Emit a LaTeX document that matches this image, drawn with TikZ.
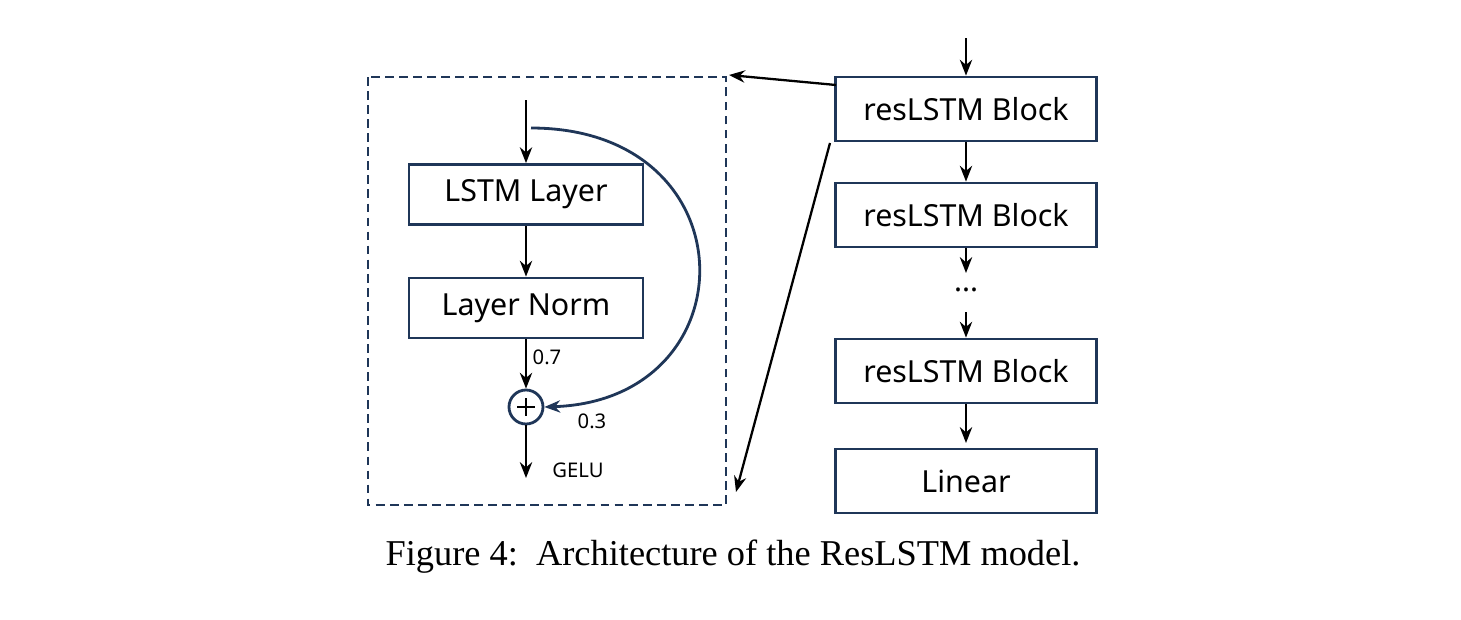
\documentclass[tikz,border=0pt]{standalone}
\usepackage{fontspec}
\setmainfont{Liberation Serif}
\newfontfamily\boxfont{Noto Sans}
\usetikzlibrary{arrows.meta, positioning}
\definecolor{navy}{HTML}{1F3658}
\tikzset{
  blk/.style={draw=navy, line width=1.6pt, minimum width=4.68cm, minimum height=1.2cm, font=\boxfont\fontsize{17.3}{20}\selectfont},
  rblk/.style={blk, minimum width=5.22cm, minimum height=1.28cm},
  arr/.style={-{Stealth[length=9pt,width=7pt]}, line width=1.3pt},
  lbl/.style={font=\boxfont\fontsize{11.5}{13}\selectfont}
}
\begin{document}
\begin{tikzpicture}[x=0.02cm, y=-0.02cm]
\useasboundingbox (0,0) rectangle (1461,619);
% left: inside of a block
\draw[navy, dash pattern=on 5pt off 3pt, line width=1.2pt] (368,77) rectangle (726,505);
\coordinate (in) at (526,100);
\node[blk] (lstm) at (526,194.5) {LSTM Layer};
\node[blk] (norm) at (526,308) {Layer Norm};
\node[draw=navy, circle, line width=1.6pt, minimum size=0.68cm, inner sep=0pt] (plus) at (526,407) {};
\draw[line width=0.6pt] (plus.center) +(-9,0) -- +(9,0) (plus.center) +(0,-9) -- +(0,9);
\coordinate (out) at (526,478);
\draw[arr] (in) -- (lstm);
\draw[arr] (lstm) -- (norm);
\draw[arr] (norm) -- (plus);
\draw[arr] (plus) -- (out);
\draw[arr, navy, line width=1.6pt] (531,128) .. controls (752,128) and (752,400) .. (plus.east);
\node[lbl] at (547,357) {0.7};
\node[lbl] at (592,421) {0.3};
\node[lbl] at (578,470) {GELU};

% right: the stack
\coordinate (top) at (966,38);
\node[rblk] (b1) at (966,109) {resLSTM Block};
\node[rblk] (b2) at (966,215) {resLSTM Block};
\node[font=\boxfont\fontsize{17}{18}\selectfont] (dots) at (966,290) {...};
\node[rblk] (b3) at (966,371) {resLSTM Block};
\node[rblk] (lin) at (966,481) {Linear};
\draw[arr] (top) -- (b1);
\draw[arr] (b1) -- (b2);
\draw[arr] (b2) -- (966,273);
\draw[arr] (966,312) -- (b3);
\draw[arr] (b3) -- (966,443);
\draw[arr] (836,85) -- (729,75);
\draw[arr] (830,143) -- (736,492);

\node[font=\fontsize{20.7}{24}\selectfont] (cap) at (733,557) {Figure 4:\ \ Architecture of the ResLSTM model.};
\end{tikzpicture}
\end{document}
